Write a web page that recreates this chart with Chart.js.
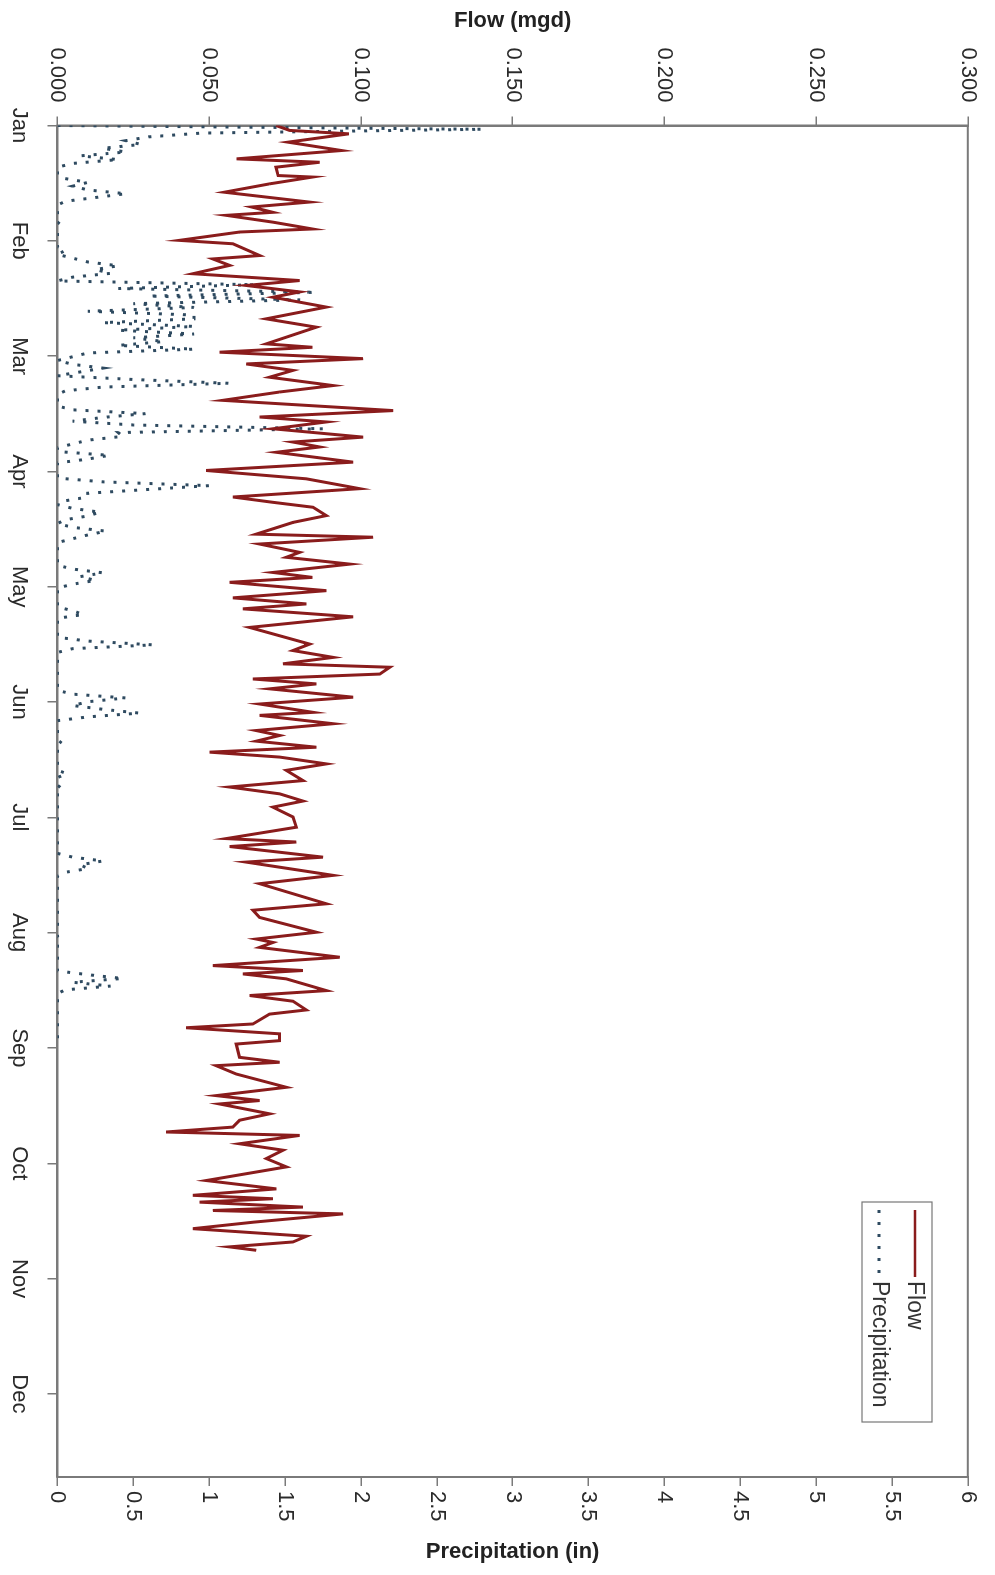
<!DOCTYPE html>
<html>
<head>
<meta charset="utf-8">
<script src="https://cdn.jsdelivr.net/npm/chart.js@4.4.0/dist/chart.umd.min.js"></script>
<style>
    html, body { margin: 0; padding: 0; background: #fff; overflow: hidden; }
    /* chart is drawn landscape, then turned a quarter turn clockwise */
    #wrap {
        position: absolute; left: 0; top: 0;
        width: 1575px; height: 995px;
        transform-origin: 0 0;
        transform: translate(995px, 0) rotate(90deg);
    }
</style>
</head>
<body>
<div id="wrap"><canvas id="flowChart" width="1575" height="995"></canvas></div>
<script>
const monthLabels = ['Jan', 'Feb', 'Mar', 'Apr', 'May', 'Jun', 'Jul', 'Aug', 'Sep', 'Oct', 'Nov', 'Dec'];

// flow trace: day of year / mgd
const flowDays = [
    0.0, 1.3, 2.2, 4.4, 6.6, 8.8, 9.7, 11.0, 13.2, 13.6, 15.4, 17.6, 20.2, 21.5, 22.9, 23.7, 25.5, 27.3, 28.1, 30.3,
    31.2, 34.3, 35.2, 36.9, 39.1, 40.9, 42.2, 43.9, 45.3, 47.9, 51.0, 53.2, 57.6, 58.5, 59.8, 61.5, 62.9, 64.6, 66.4, 68.6,
    70.3, 72.5, 75.2, 76.9, 78.2, 80.0, 82.2, 83.5, 84.8, 86.2, 88.8, 91.0, 93.2, 95.8, 98.0, 99.4, 100.7, 102.9, 104.7, 107.8,
    108.6, 110.4, 112.6, 113.9, 115.7, 117.9, 119.2, 120.5, 122.7, 124.6, 126.2, 127.5, 129.6, 132.4, 136.8, 138.5, 140.3, 142.0, 142.9, 144.7,
    146.0, 147.3, 148.6, 150.8, 152.6, 154.8, 155.6, 157.8, 159.6, 160.9, 162.4, 164.0, 165.3, 166.6, 168.4, 170.1, 172.8, 174.5, 176.3, 178.2,
    179.8, 182.4, 185.1, 188.1, 189.0, 190.2, 193.0, 194.3, 197.8, 200.0, 205.3, 207.0, 208.9, 212.8, 214.6, 215.5, 216.8, 219.4, 221.6, 222.9,
    223.8, 225.1, 228.2, 229.5, 231.0, 233.3, 234.4, 237.0, 238.0, 239.6, 241.4, 242.3, 245.8, 247.1, 248.0, 250.2, 253.7, 255.9, 257.2, 258.1,
    260.7, 262.4, 264.2, 265.5, 266.4, 268.6, 270.3, 272.5, 274.7, 278.3, 280.5, 282.2, 283.1, 284.0, 285.3, 286.2, 287.1, 289.3, 291.0, 293.0,
    294.5, 295.8, 296.7
];
const flowMgd = [
    0.072, 0.0765, 0.096, 0.076, 0.0936, 0.059, 0.0864, 0.072, 0.0727, 0.084, 0.0699, 0.055, 0.083, 0.064, 0.071, 0.0556, 0.071, 0.084, 0.060, 0.0402,
    0.0578, 0.0666, 0.0512, 0.0567, 0.0446, 0.0798, 0.0622, 0.0798, 0.071, 0.0886, 0.0688, 0.0853, 0.0688, 0.084, 0.0534, 0.1007, 0.0622, 0.0776, 0.0699, 0.0908,
    0.0732, 0.0545, 0.1106, 0.0666, 0.0886, 0.071, 0.1007, 0.0776, 0.0864, 0.0721, 0.0974, 0.049, 0.082, 0.0996, 0.0578, 0.071, 0.0842, 0.0886, 0.0776, 0.0655,
    0.104, 0.0666, 0.0798, 0.0754, 0.0963, 0.071, 0.084, 0.0567, 0.0886, 0.0578, 0.082, 0.0611, 0.0974, 0.0633, 0.0831, 0.0776, 0.0908, 0.0743, 0.1095, 0.1062,
    0.0644, 0.0853, 0.0699, 0.0974, 0.0666, 0.0842, 0.0666, 0.0908, 0.0655, 0.0732, 0.0655, 0.0853, 0.0501, 0.0732, 0.0886, 0.0754, 0.0809, 0.0567, 0.0732, 0.0809,
    0.071, 0.0776, 0.0787, 0.0556, 0.0787, 0.0567, 0.0875, 0.0622, 0.0908, 0.0666, 0.0886, 0.0644, 0.0666, 0.0853, 0.0655, 0.071, 0.0666, 0.093, 0.0512, 0.0809,
    0.0611, 0.0754, 0.0886, 0.0633, 0.0776, 0.082, 0.0699, 0.0644, 0.0424, 0.0732, 0.0732, 0.0589, 0.060, 0.0732, 0.0523, 0.0589, 0.0754, 0.0523, 0.0666, 0.0534,
    0.0699, 0.060, 0.0578, 0.0358, 0.0798, 0.060, 0.0743, 0.0688, 0.0754, 0.049, 0.0721, 0.0446, 0.071, 0.0468, 0.0809, 0.0512, 0.0941, 0.0644, 0.0446, 0.082,
    0.0776, 0.0567, 0.0655
];

// daily precipitation, inches, from Jan 1
const precipIn = [
    // Jan
    0, 2.8, 0.95, 0.6, 0.45, 0.55, 0.3, 0.45, 0.15, 0.4, 0.1, 0, 0, 0, 0.05, 0.2, 0.1, 0.2, 0.45, 0.25, 0.05, 0, 0, 0, 0, 0.02, 0, 0, 0, 0, 0,
    // Feb
    0, 0, 0.05, 0, 0.1, 0.2, 0.4, 0.25, 0.35, 0.1, 0, 1.3, 0.4, 1.7, 0.6, 1.6, 0.5, 0.9, 0.2, 0.9, 0.9, 0.3, 0.9, 0.4, 0.9, 0.5, 0.7, 0.4,
    // Mar
    0.9, 0.2, 0.1, 0, 0.1, 0.3, 0.15, 0, 0.5, 1.13, 0.3, 0.05, 0, 0, 0, 0, 0.1, 0.58, 0.3, 0.1, 0.5, 1.75, 0.4, 0.43, 0.2, 0.1, 0, 0, 0.34, 0.2, 0,
    // Apr
    0, 0, 0, 0, 0.3, 1.0, 0.6, 0.2, 0.2, 0.05, 0, 0.1, 0.28, 0.2, 0.05, 0, 0.1, 0.32, 0.2, 0.1, 0, 0, 0, 0, 0, 0, 0, 0.1, 0.3, 0.15,
    // May
    0.25, 0.1, 0, 0, 0, 0, 0, 0, 0.1, 0.17, 0, 0, 0, 0, 0, 0, 0.2, 0.63, 0.1, 0, 0, 0, 0, 0, 0, 0, 0, 0, 0, 0, 0.1,
    // Jun
    0.45, 0.2, 0.1, 0.3, 0.54, 0.2, 0, 0, 0, 0, 0, 0, 0.03, 0, 0, 0, 0, 0, 0, 0, 0.06, 0, 0, 0, 0.03, 0, 0, 0, 0, 0,
    // Jul
    0, 0, 0, 0, 0, 0, 0, 0, 0, 0, 0, 0, 0.1, 0.3, 0.15, 0.2, 0.05, 0, 0, 0, 0, 0, 0, 0, 0, 0, 0, 0, 0, 0, 0,
    // Aug
    0, 0, 0, 0.02, 0, 0, 0, 0, 0, 0, 0, 0, 0.2, 0.43, 0.1, 0.35, 0.05, 0, 0, 0, 0, 0, 0, 0, 0, 0, 0, 0, 0, 0, 0
];

const flowTicks = [0, 0.05, 0.1, 0.15, 0.2, 0.25, 0.3];
const precipTicks = [0, 0.5, 1, 1.5, 2, 2.5, 3, 3.5, 4, 4.5, 5, 5.5, 6];

const FONT = "'Liberation Sans', Arial, Helvetica, sans-serif";
const FLOW_COLOR = '#8a1c1c';
const PRECIP_COLOR = '#2e4a60';
const AXIS_COLOR = '#7a7a7a';

Chart.defaults.font.family = FONT;
Chart.defaults.font.size = 22;
Chart.defaults.color = '#2a2a2a';

// box round the plot, axis titles and the legend
const frameAndText = {
    id: 'frameAndText',
    beforeDatasetsDraw(chart) {
        const { ctx, chartArea: a } = chart;
        ctx.save();
        ctx.strokeStyle = AXIS_COLOR;
        ctx.lineWidth = 2;
        ctx.strokeRect(a.left, a.top, a.right - a.left, a.bottom - a.top);
        ctx.restore();
    },
    afterDraw(chart) {
        const { ctx, chartArea: a } = chart;
        const midY = (a.top + a.bottom) / 2;
        ctx.save();
        ctx.fillStyle = '#222';
        ctx.font = 'bold 22px ' + FONT;
        ctx.textAlign = 'center';
        ctx.textBaseline = 'middle';
        [['Flow (mgd)', 21], ['Precipitation (in)', 1552]].forEach(([t, x]) => {
            ctx.save();
            ctx.translate(x, midY);
            ctx.rotate(-Math.PI / 2);
            ctx.fillText(t, 0, 0);
            ctx.restore();
        });

        // legend
        const lx = 1202, ly = 63;
        ctx.fillStyle = '#fff';
        ctx.fillRect(lx, ly, 220, 70);
        ctx.strokeStyle = '#777';
        ctx.lineWidth = 1.2;
        ctx.strokeRect(lx, ly, 220, 70);
        ctx.lineWidth = 2.5;
        ctx.strokeStyle = FLOW_COLOR;
        ctx.beginPath(); ctx.moveTo(lx + 8, ly + 17); ctx.lineTo(lx + 75, ly + 17); ctx.stroke();
        ctx.strokeStyle = PRECIP_COLOR;
        ctx.lineWidth = 3;
        ctx.setLineDash([3, 9]);
        ctx.beginPath(); ctx.moveTo(lx + 8, ly + 53); ctx.lineTo(lx + 78, ly + 53); ctx.stroke();
        ctx.setLineDash([]);
        ctx.fillStyle = '#333';
        ctx.font = '23px ' + FONT;
        ctx.textAlign = 'left';
        ctx.fillText('Flow', lx + 79, ly + 18);
        ctx.fillText('Precipitation', lx + 79, ly + 53);
        ctx.restore();
    }
};

const axisGrid = { drawOnChartArea: false, color: AXIS_COLOR, lineWidth: 1.5 };
const axisBorder = { display: true, color: AXIS_COLOR, width: 2 };

const ctx = document.getElementById('flowChart').getContext('2d');
new Chart(ctx, {
    type: 'line',
    data: {
        datasets: [{
            label: 'Flow',
            data: flowDays.map((d, i) => ({ x: d, y: flowMgd[i] })),
            yAxisID: 'yFlow',
            borderColor: FLOW_COLOR,
            borderWidth: 3,
            pointRadius: 0,
            tension: 0
        }, {
            label: 'Precipitation',
            data: precipIn.map((v, i) => ({ x: i, y: v })),
            yAxisID: 'yPrecip',
            borderColor: PRECIP_COLOR,
            borderWidth: 3,
            borderDash: [3, 9],
            pointRadius: 0,
            tension: 0
        }]
    },
    options: {
        responsive: false,
        animation: false,
        devicePixelRatio: 1,
        layout: { padding: { top: 21, left: 0, right: 0, bottom: 0 } },
        plugins: { legend: { display: false }, tooltip: { enabled: false } },
        scales: {
            x: {
                type: 'linear',
                position: 'bottom',
                min: 0,
                max: 356.5,
                afterBuildTicks: s => { s.ticks = monthLabels.map((m, i) => ({ value: i * 365 / 12 })); },
                afterFit: s => { s.height = 57.5; },
                ticks: { autoSkip: false, maxRotation: 0, minRotation: 0, padding: 15, callback: (v, i) => monthLabels[i] },
                grid: Object.assign({ tickLength: 10 }, axisGrid),
                border: axisBorder
            },
            yFlow: {
                position: 'left',
                min: 0,
                max: 0.3,
                afterBuildTicks: s => { s.ticks = flowTicks.map(v => ({ value: v })); },
                afterFit: s => { s.width = 125.5; },
                ticks: { padding: 14, callback: v => v.toFixed(3) },
                grid: Object.assign({ tickLength: 9 }, axisGrid),
                border: axisBorder
            },
            yPrecip: {
                position: 'right',
                min: 0,
                max: 6,
                afterBuildTicks: s => { s.ticks = precipTicks.map(v => ({ value: v })); },
                afterFit: s => { s.width = 98; },
                ticks: { padding: 5, callback: v => String(v) },
                grid: Object.assign({ tickLength: 9 }, axisGrid),
                border: axisBorder
            }
        }
    },
    plugins: [frameAndText]
});
</script>
</body>
</html>
